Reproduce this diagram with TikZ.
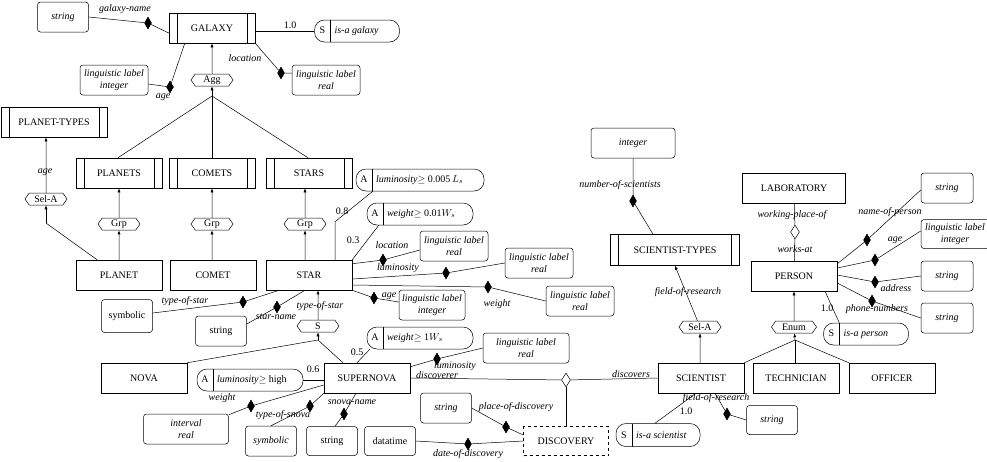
\documentclass[tikz,border=0pt]{standalone}
\usepackage{fontspec}
\setmainfont{Liberation Serif}
\usetikzlibrary{arrows.meta,shapes.geometric,shapes.symbols}
\newcommand{\pilltxt}[3]{\makebox[16pt]{#1}\makebox[\dimexpr#2-16pt\relax][l]{\hspace{4pt}#3}}
\tikzset{
	ent/.style = {draw, rectangle, minimum width=86pt, minimum height=30pt, inner sep=0pt},
	ment/.style = 
    {
			ent,
			path picture = 
            {
					\draw ([xshift=8pt]path picture bounding box.north west) -- ([xshift=8pt]path picture bounding box.south west);
					\draw ([xshift=-8pt]path picture bounding box.north east) -- ([xshift=-8pt]path picture bounding box.south east);
            }
    },
	val/.style = {draw, rounded corners=3pt, minimum width=51pt, minimum height=30pt, inner sep=1pt, align=center, font=\itshape},
	pill/.style = 
    {
			draw, rounded corners=10pt, minimum height=22pt, inner sep=0pt,
			path picture = 
            {
					\draw ([xshift=16pt]path picture bounding box.north west) -- ([xshift=16pt]path picture bounding box.south west);
            }
    },
	hexa/.style = {draw, shape=signal, signal to=west and east, signal pointer angle=110, minimum width=42pt, minimum height=12pt, inner sep=0.5pt},
	fd/.style = {draw, fill=black, diamond, minimum width=7pt, minimum height=12pt, inner sep=0pt},
	od/.style = {draw, fill=white, diamond, minimum width=9pt, minimum height=14pt, inner sep=0pt},
	lbl/.style = {font=\itshape, inner sep=1pt},
	isa/.style = {-{Latex[length=4pt,width=3pt]}}
}

\begin{document}
\begin{tikzpicture}[x=1pt, y=-1pt, line width=0.5pt, font=\fontsize{10}{12}\selectfont]
    \useasboundingbox (0,0) rectangle (987,461);
    % Nodes
    \node (galaxy) [ment] at (212,28) {GALAXY};
    \node (galname) [val] at (63,17) {string};
    \node (isagal) [pill] at (357,31) {\pilltxt{S}{85pt}{\textit{is-a galaxy}}};
    \node (galage) [val, minimum width=68pt] at (114,80) {linguistic label\\integer};
    \node (galloc) [val, minimum width=68pt] at (326,80) {linguistic label\\real};
    \node (agg) [hexa] at (212,80) {Agg};
    \node (ptypes) [ment, minimum width=106pt] at (54,122) {PLANET-TYPES};
    \node (planets) [ment] at (119,173) {PLANETS};
    \node (comets) [ment] at (212,173) {COMETS};
    \node (stars) [ment] at (309,173) {STARS};
    \node (sela1) [hexa] at (46,199) {Sel-A};
    \node (grp1) [hexa] at (119,224) {Grp};
    \node (grp2) [hexa] at (212,224) {Grp};
    \node (grp3) [hexa] at (305,224) {Grp};
    \node (planet) [ent] at (119,275) {PLANET};
    \node (comet) [ent] at (213,275) {COMET};
    \node (star) [ent] at (309,275) {STAR};

    \node (lumst) [pill] at (420,180) {\pilltxt{A}{128pt}{\textit{luminosity}$\geq$\ 0.005\,$L_s$}};
    \node (wgtst) [pill] at (420,214) {\pilltxt{A}{106pt}{\textit{weight}$\geq$\ 0.01$W_s$}};
    \node (stloc) [val, minimum width=68pt] at (454,246) {linguistic label\\real};
    \node (stlum) [val, minimum width=68pt] at (539,263) {linguistic label\\real};
    \node (stwgt) [val, minimum width=68pt] at (580,301) {linguistic label\\real};
    \node (stage) [val, minimum width=66pt] at (432,305) {linguistic label\\integer};
    \node (sym1) [val, font=\upshape, minimum height=33pt] at (127,316) {symbolic};
    \node (str2) [val, font=\upshape] at (221,331) {string};
    \node (s1) [hexa] at (318,326) {S};

    \node (nova) [ent] at (144,378) {NOVA};
    \node (snova) [ent] at (367,378) {SUPERNOVA};
    \node (lumsn) [pill] at (250,380) {\pilltxt{A}{106pt}{\textit{luminosity}$\geq$\ high}};
    \node (wgtsn) [pill] at (420,338) {\pilltxt{A}{106pt}{\textit{weight}$\geq$\ 1$W_s$}};
    \node (snlum) [val, minimum width=86pt] at (526,348) {linguistic label\\real};
    \node (interval) [val, minimum width=85pt] at (186,429) {interval\\real};
    \node (sym2) [val] at (271,441) {symbolic};
    \node (str4) [val, font=\upshape, minimum height=29pt] at (332,441) {string};
    \node (dtime) [val, font=\upshape, minimum height=29pt] at (390,441) {datatime};
    \node (str3) [val] at (446,408) {string};
    \node (discovery) [ent, dashed, minimum width=85pt, minimum height=29pt] at (566,441) {DISCOVERY};

    \node (int) [val, minimum width=84pt] at (633,143) {integer};
    \node (sctypes) [ment, minimum width=129pt, minimum height=31pt] at (675,250) {SCIENTIST-TYPES};
    \node (sela2) [hexa] at (700,327) {Sel-A};
    \node (scientist) [ent] at (701,378) {SCIENTIST};
    \node (technician) [ent] at (796,378) {TECHNICIAN};
    \node (officer) [ent] at (892,378) {OFFICER};
    \node (isasci) [pill, minimum height=23pt] at (658,435) {\pilltxt{S}{84pt}{\textit{is-a scientist}}};
    \node (str5) [val, minimum height=29pt] at (772,420) {string};
    \node (enum) [hexa, minimum width=45pt] at (794,327) {Enum};
    \node (lab) [ent, minimum width=103pt] at (794,188) {LABORATORY};
    \node (person) [ent] at (794,276) {PERSON};
    \node (isaper) [pill] at (866,334) {\pilltxt{S}{85pt}{\textit{is-a person}}};
    \node (str6) [val, minimum width=52pt] at (947,188) {string};
    \node (pnage) [val, minimum width=68pt, minimum height=29pt] at (955,234) {linguistic label\\integer};
    \node (str7) [val, minimum width=52pt] at (947,276) {string};
    \node (str8) [val, minimum width=52pt] at (947,318) {string};

    % Diamonds
    \node (dgn) [fd] at (148,23) {};
    \node (dga) [fd] at (170,87) {};
    \node (dgl) [fd] at (281,73) {};
    \node (dsl) [fd] at (383,260) {};
    \node (dslum) [fd] at (446,273) {};
    \node (dsw) [fd] at (488,287) {};
    \node (dsa) [fd] at (374,298) {};
    \node (dts) [fd] at (243,302) {};
    \node (dsn) [fd] at (277,307) {};
    \node (dsnl) [fd] at (437,359) {};
    \node (dsnn) [fd] at (344,414) {};
    \node (dtsn) [fd] at (310,406) {};
    \node (dwsn) [fd] at (251,406) {};
    \node (dpd) [fd] at (506,427) {};
    \node (ddd) [fd] at (468,444) {};
    \node (dnos) [fd] at (633,201) {};
    \node (dfr) [fd] at (727,414) {};
    \node (dnp) [fd] at (867,240) {};
    \node (dpa) [fd] at (875,260) {};
    \node (dad) [fd] at (875,282) {};
    \node (dpn) [fd] at (872,301) {};
    \node (odisc) [od] at (566,380) {};
    \node (owork) [od] at (795,232) {};

    % Junctions
    \coordinate (aggj) at (212,96);
    \coordinate (selj) at (46,223);
    \coordinate (sj) at (318,340);
    \coordinate (ej) at (795,340);

    % Labels
    \node (l1) [lbl] at (125,9) {galaxy-name};
    \node (l2) [inner sep=1pt] at (290,25) {1.0};
    \node (l3) [lbl] at (163,97) {age};
    \node (l4) [lbl] at (245,58) {location};
    \node (l5) [lbl] at (45,172) {age};
    \node (l6) [inner sep=1pt] at (342,211) {0.8};
    \node (l7) [inner sep=1pt] at (353,240) {0.3};
    \node (l8) [lbl] at (392,245) {location};
    \node (l9) [lbl] at (398,268) {luminosity};
    \node (l10) [lbl] at (497,304) {weight};
    \node (l11) [lbl] at (389,296) {age};
    \node (l12) [lbl] at (185,301) {type-of-star};
    \node (l13) [lbl] at (276,317) {star-name};
    \node (l14) [lbl] at (320,306) {type-of-star};
    \node (l15) [inner sep=1pt] at (313,369) {0.6};
    \node (l16) [inner sep=1pt] at (357,352) {0.5};
    \node (l17) [lbl] at (455,366) {luminosity};
    \node (l18) [lbl] at (437,375) {discoverer};
    \node (l19) [lbl] at (631,374) {discovers};
    \node (l20) [lbl] at (222,398) {weight};
    \node (l21) [lbl] at (283,415) {type-of-snova};
    \node (l22) [lbl] at (352,402) {snova-name};
    \node (l23) [lbl] at (516,407) {place-of-discovery};
    \node (l24) [lbl] at (468,454) {date-of-discovery};
    \node (l25) [lbl] at (620,185) {number-of-scientists};
    \node (l26) [lbl] at (688,292) {field-of-research};
    \node (l27) [inner sep=1pt] at (686,411) {1.0};
    \node (l28) [lbl] at (716,398) {field-of-research};
    \node (l29) [lbl] at (792,215) {working-place-of};
    \node (l30) [lbl] at (795,249) {works-at};
    \node (l31) [lbl] at (890,212) {name-of-person};
    \node (l32) [lbl] at (895,240) {age};
    \node (l33) [lbl] at (896,288) {address};
    \node (l34) [lbl] at (877,309) {phone-numbers};
    \node (l35) [inner sep=1pt] at (827,308) {1.0};

    % Arrows
    \draw (galname.east) -- (dgn) -- ([yshift=-5pt]galaxy.west);
    \draw (isagal.west) -- (isagal.west -| galaxy.east);
    \draw ([yshift=-4pt]galage.east) -- (dga) -- ([xshift=16pt]galaxy.south west);
    \draw (galaxy.south east) -- (dgl) -- (galloc.west |- dgl);
    \draw [isa] (agg) -- (galaxy.south -| agg);
    \draw [isa] (aggj) -- (agg);
    \draw ([xshift=-1pt]planets.north) -- (aggj);
    \draw (comets.north) -- (aggj);
    \draw ([xshift=-1pt]stars.north) -- (aggj);
    \draw [isa] (sela1) -- (ptypes.south -| sela1);
    \draw ([xshift=-22pt]planet.north) -- (selj);
    \draw [isa] (selj) -- (sela1);
    \draw [isa] (planet.north -| grp1) -- (grp1);
    \draw [isa] (grp1) -- (planets.south -| grp1);
    \draw [isa] (comet.north -| grp2) -- (grp2);
    \draw [isa] (grp2) -- (comets.south -| grp2);
    \draw [isa] (star.north -| grp3) -- (grp3);
    \draw [isa] (grp3) -- (stars.south -| grp3);

    \draw ([xshift=26pt]star.north) -- ++(0,-38) -- ([xshift=17pt]lumst.south west);
    \draw (star.north east) -- ([xshift=12pt]wgtst.south west);
    \draw ([yshift=-4pt]star.north east) -- (dsl) -- ([yshift=-4pt]stloc.west);
    \draw ([yshift=-4pt]star.east) -- (dslum) -- (stlum.west);
    \draw ([yshift=-10pt]star.east) -- (dsw) -- (stwgt.west);
    \draw (star.south east) -- (dsa) -- ([yshift=3pt]stage.west);
    \draw ([yshift=3pt]sym1.east) -- (dts) -- ([xshift=-30pt]star.south);
    \draw ([yshift=7pt]str2.east) -- (dsn) -- ([xshift=-4pt]star.south);
    \draw [isa] (s1) -- (star.south -| s1);
    \draw [isa] (sj) -- (s1);
    \draw (nova.north east) -- (sj);
    \draw ([xshift=-24pt]snova.north) -- (sj);

    \draw (lumsn.east) -- (lumsn.east -| snova.west);
    \draw ([xshift=-10pt]snova.north) -- ([xshift=3pt]wgtsn.south west);
    \draw ([yshift=-4pt]snova.north east) -- (dsnl) -- (snlum.west);
    \draw (snova.east) -- (odisc) -- (scientist.west);
    \draw (odisc) -- (discovery);
    \draw ([yshift=-7pt]snova.west) -- (dwsn) -- ([yshift=-1pt]interval.north east);
    \draw (snova.south west) -- (dtsn) -- (sym2.north);
    \draw ([xshift=-11pt]snova.south) -- (dsnn) -- ([xshift=3pt]str4.north);
    \draw (str3.east) -- (dpd) -- ([yshift=6pt]discovery.west);
    \draw (dtime.east) -- (ddd) -- (discovery.west);

    \draw (int.south) -- (dnos) -- ([xshift=-22pt]sctypes.north);
    \draw [isa] (sela2) -- (sctypes.south);
    \draw [isa] (scientist.north -| sela2) -- (sela2);
    \draw ([xshift=-5pt]scientist.south) -- ([xshift=-3pt]isasci.north);
    \draw ([xshift=14pt]scientist.south) -- (dfr) -- (str5.west);
    \draw (scientist.north east) -- (ej);
    \draw (technician.north -| ej) -- (ej);
    \draw (officer.north west) -- (ej);
    \draw [isa] (ej) -- (enum);
    \draw [isa] (enum) -- (person.south -| enum);
    \draw (lab) -- (owork) -- (person);
    \draw ([xshift=31pt]person.south) -- ([xshift=16pt]isaper.north west);
    \draw ([yshift=-3pt]person.north east) -- (dnp) -- ([yshift=-2pt]str6.west);
    \draw ([yshift=8pt]person.east) -- (dpa) -- ([yshift=3pt]pnage.west);
    \draw ([yshift=1pt]person.east) -- (dad) -- (str7.west);
    \draw ([yshift=-7pt]person.east) -- (dpn) -- (str8.west);
\end{tikzpicture}
\end{document}
